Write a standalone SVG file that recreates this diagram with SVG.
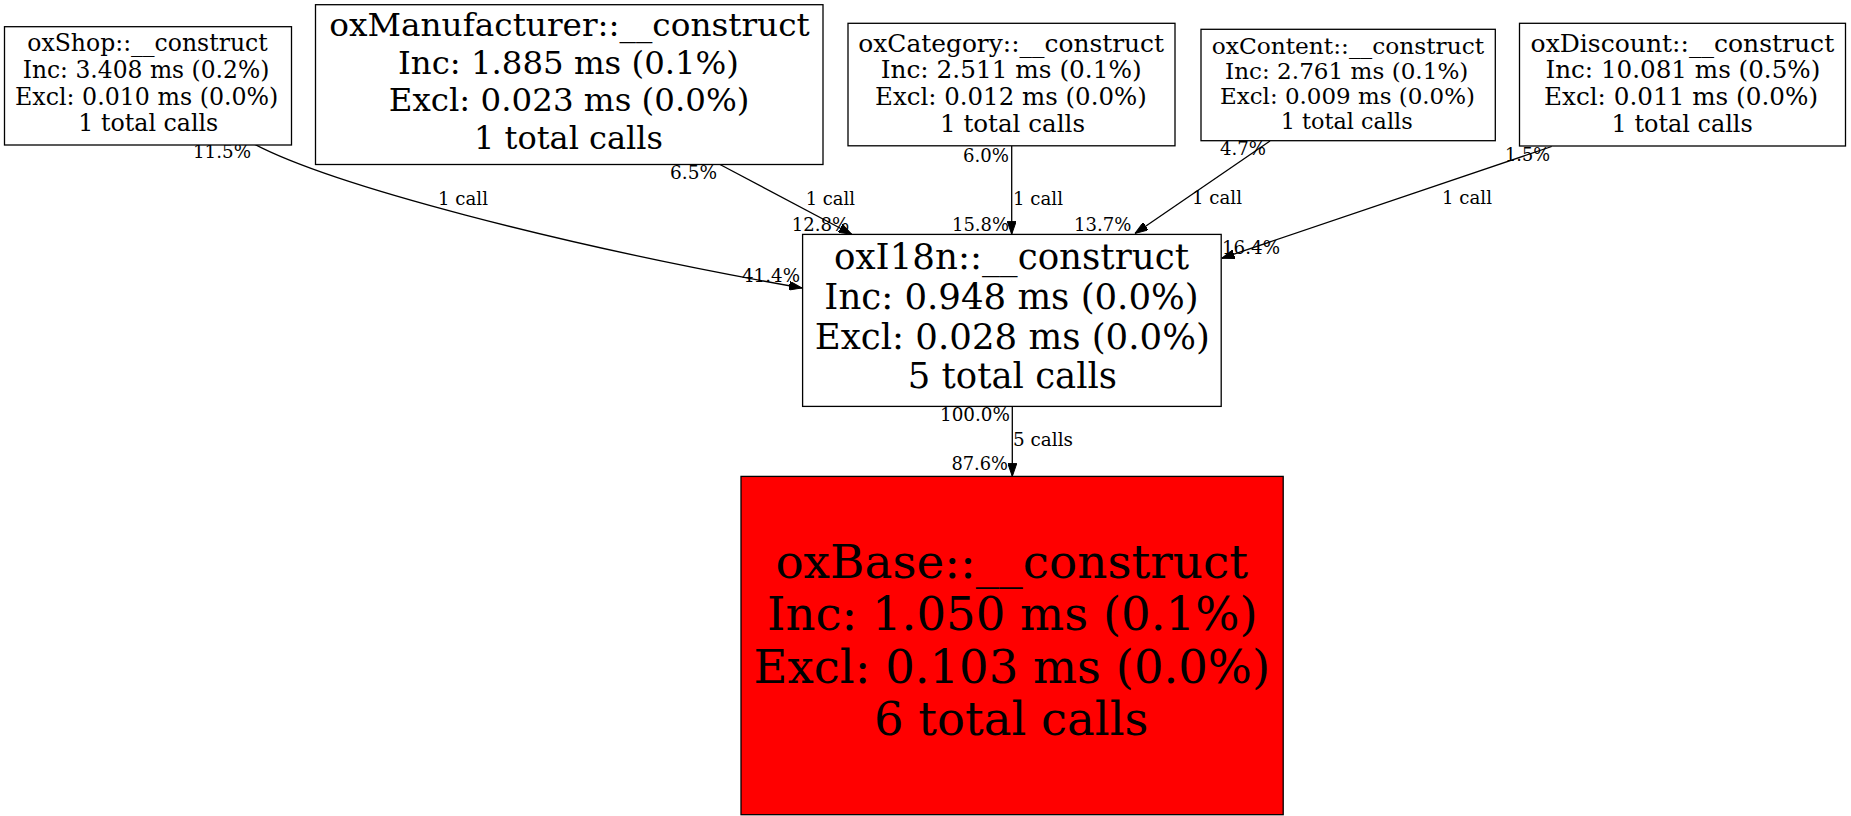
<svg xmlns="http://www.w3.org/2000/svg" width="1851" height="816" viewBox="0 0 1851 816">
<style>
.box{fill:#ffffff;stroke:#000000;stroke-width:1.3}
.hot{fill:#ff0000;stroke:#000000;stroke-width:1.3}
text{font-family:"DejaVu Serif","Liberation Serif",serif;fill:#000000}
.n text{text-anchor:middle}
.edge{fill:none;stroke:#000000;stroke-width:1.3}
.el{font-size:18px}
</style>
<defs>
<marker id="arr" viewBox="0 0 13 9" refX="13" refY="4.5" markerWidth="13" markerHeight="9" markerUnits="userSpaceOnUse" orient="auto">
<path d="M0,0 L13,4.5 L0,9 z" fill="#000000" stroke="#000000" stroke-width="1"/>
</marker>
</defs>
<rect x="0" y="0" width="1851" height="816" fill="#ffffff"/>

<g id="connectors">
<path class="edge" d="M252,143 C330,185 560,245 802,288" marker-end="url(#arr)"/>
<path class="edge" d="M720,164.5 L851.7,234.3" marker-end="url(#arr)"/>
<path class="edge" d="M1011.7,146 L1011.7,234.3" marker-end="url(#arr)"/>
<path class="edge" d="M1270,141 L1135,233.5" marker-end="url(#arr)"/>
<path class="edge" d="M1551.7,146.5 L1221.7,258.3" marker-end="url(#arr)"/>
<path class="edge" d="M1012.3,406.5 L1012.3,476.4" marker-end="url(#arr)"/>
<g class="el">
<text x="193" y="158.3" textLength="58" lengthAdjust="spacingAndGlyphs">11.5%</text>
<text x="438" y="205" textLength="50" lengthAdjust="spacingAndGlyphs">1 call</text>
<text x="742" y="282.4" textLength="58" lengthAdjust="spacingAndGlyphs">41.4%</text>
<text x="670" y="179.3" textLength="47" lengthAdjust="spacingAndGlyphs">6.5%</text>
<text x="805.7" y="205" textLength="49.3" lengthAdjust="spacingAndGlyphs">1 call</text>
<text x="791.7" y="230.7" textLength="57.6" lengthAdjust="spacingAndGlyphs">12.8%</text>
<text x="963" y="161.7" textLength="46" lengthAdjust="spacingAndGlyphs">6.0%</text>
<text x="1013" y="205" textLength="50" lengthAdjust="spacingAndGlyphs">1 call</text>
<text x="952" y="230.7" textLength="57" lengthAdjust="spacingAndGlyphs">15.8%</text>
<text x="1220" y="155" textLength="46" lengthAdjust="spacingAndGlyphs">4.7%</text>
<text x="1192" y="204" textLength="50" lengthAdjust="spacingAndGlyphs">1 call</text>
<text x="1074" y="230.7" textLength="57.3" lengthAdjust="spacingAndGlyphs">13.7%</text>
<text x="1505" y="161" textLength="45" lengthAdjust="spacingAndGlyphs">1.5%</text>
<text x="1442" y="204" textLength="50" lengthAdjust="spacingAndGlyphs">1 call</text>
<text x="1222" y="254" textLength="58" lengthAdjust="spacingAndGlyphs">16.4%</text>
<text x="940" y="421" textLength="70" lengthAdjust="spacingAndGlyphs">100.0%</text>
<text x="1013" y="445.8" textLength="60" lengthAdjust="spacingAndGlyphs">5 calls</text>
<text x="951.4" y="469.5" textLength="56.6" lengthAdjust="spacingAndGlyphs">87.6%</text>
</g>
</g>

<g id="oxShop" class="n" font-size="23.5">
<rect class="box" x="4.5" y="26.7" width="287" height="118.3"/>
<text x="147.5" y="51" textLength="240.4" lengthAdjust="spacingAndGlyphs">oxShop::__construct</text>
<text x="146" y="78" textLength="246.6" lengthAdjust="spacingAndGlyphs">Inc: 3.408 ms (0.2%)</text>
<text x="146.7" y="104.7" textLength="263.3" lengthAdjust="spacingAndGlyphs">Excl: 0.010 ms (0.0%)</text>
<text x="148.3" y="131" textLength="140" lengthAdjust="spacingAndGlyphs">1 total calls</text>
</g>

<g id="oxManufacturer" class="n" font-size="32.5">
<rect class="box" x="315.5" y="4.7" width="507.5" height="159.8"/>
<text x="569.5" y="35.5" textLength="480.3" lengthAdjust="spacingAndGlyphs">oxManufacturer::__construct</text>
<text x="568.5" y="73.5" textLength="341" lengthAdjust="spacingAndGlyphs">Inc: 1.885 ms (0.1%)</text>
<text x="569.1" y="111.3" textLength="360.6" lengthAdjust="spacingAndGlyphs">Excl: 0.023 ms (0.0%)</text>
<text x="568.5" y="149" textLength="189" lengthAdjust="spacingAndGlyphs">1 total calls</text>
</g>

<g id="oxCategory" class="n" font-size="24">
<rect class="box" x="848" y="23.3" width="327" height="122.5"/>
<text x="1011.2" y="51.7" textLength="305.7" lengthAdjust="spacingAndGlyphs">oxCategory::__construct</text>
<text x="1011.2" y="78.3" textLength="261" lengthAdjust="spacingAndGlyphs">Inc: 2.511 ms (0.1%)</text>
<text x="1010.9" y="105" textLength="271.7" lengthAdjust="spacingAndGlyphs">Excl: 0.012 ms (0.0%)</text>
<text x="1012.5" y="131.7" textLength="145" lengthAdjust="spacingAndGlyphs">1 total calls</text>
</g>

<g id="oxContent" class="n" font-size="22.5">
<rect class="box" x="1201" y="29.3" width="294.3" height="111.4"/>
<text x="1347.9" y="53.5" textLength="272.3" lengthAdjust="spacingAndGlyphs">oxContent::__construct</text>
<text x="1346.7" y="78.5" textLength="243.3" lengthAdjust="spacingAndGlyphs">Inc: 2.761 ms (0.1%)</text>
<text x="1347.5" y="103.5" textLength="255" lengthAdjust="spacingAndGlyphs">Excl: 0.009 ms (0.0%)</text>
<text x="1346.7" y="128.5" textLength="132" lengthAdjust="spacingAndGlyphs">1 total calls</text>
</g>

<g id="oxDiscount" class="n" font-size="24">
<rect class="box" x="1519.5" y="23.3" width="326" height="122.7"/>
<text x="1682.4" y="51.7" textLength="303.6" lengthAdjust="spacingAndGlyphs">oxDiscount::__construct</text>
<text x="1682.9" y="78.3" textLength="274.9" lengthAdjust="spacingAndGlyphs">Inc: 10.081 ms (0.5%)</text>
<text x="1681" y="105" textLength="274" lengthAdjust="spacingAndGlyphs">Excl: 0.011 ms (0.0%)</text>
<text x="1682.2" y="131.7" textLength="141.2" lengthAdjust="spacingAndGlyphs">1 total calls</text>
</g>

<g id="oxI18n" class="n" font-size="35">
<rect class="box" x="802.6" y="234.4" width="418.6" height="172"/>
<text x="1011.5" y="269" textLength="355" lengthAdjust="spacingAndGlyphs">oxI18n::__construct</text>
<text x="1011.5" y="308.8" textLength="374.3" lengthAdjust="spacingAndGlyphs">Inc: 0.948 ms (0.0%)</text>
<text x="1012.3" y="348.6" textLength="395" lengthAdjust="spacingAndGlyphs">Excl: 0.028 ms (0.0%)</text>
<text x="1012.4" y="388.4" textLength="209.3" lengthAdjust="spacingAndGlyphs">5 total calls</text>
</g>

<g id="oxBase" class="n" font-size="46.5">
<rect class="hot" x="741" y="476.4" width="542.2" height="338.3"/>
<text x="1011.7" y="578" textLength="472.6" lengthAdjust="spacingAndGlyphs">oxBase::__construct</text>
<text x="1012.3" y="630.3" textLength="490.6" lengthAdjust="spacingAndGlyphs">Inc: 1.050 ms (0.1%)</text>
<text x="1011.9" y="682.6" textLength="516.6" lengthAdjust="spacingAndGlyphs">Excl: 0.103 ms (0.0%)</text>
<text x="1011.2" y="734.9" textLength="274.5" lengthAdjust="spacingAndGlyphs">6 total calls</text>
</g>
</svg>
